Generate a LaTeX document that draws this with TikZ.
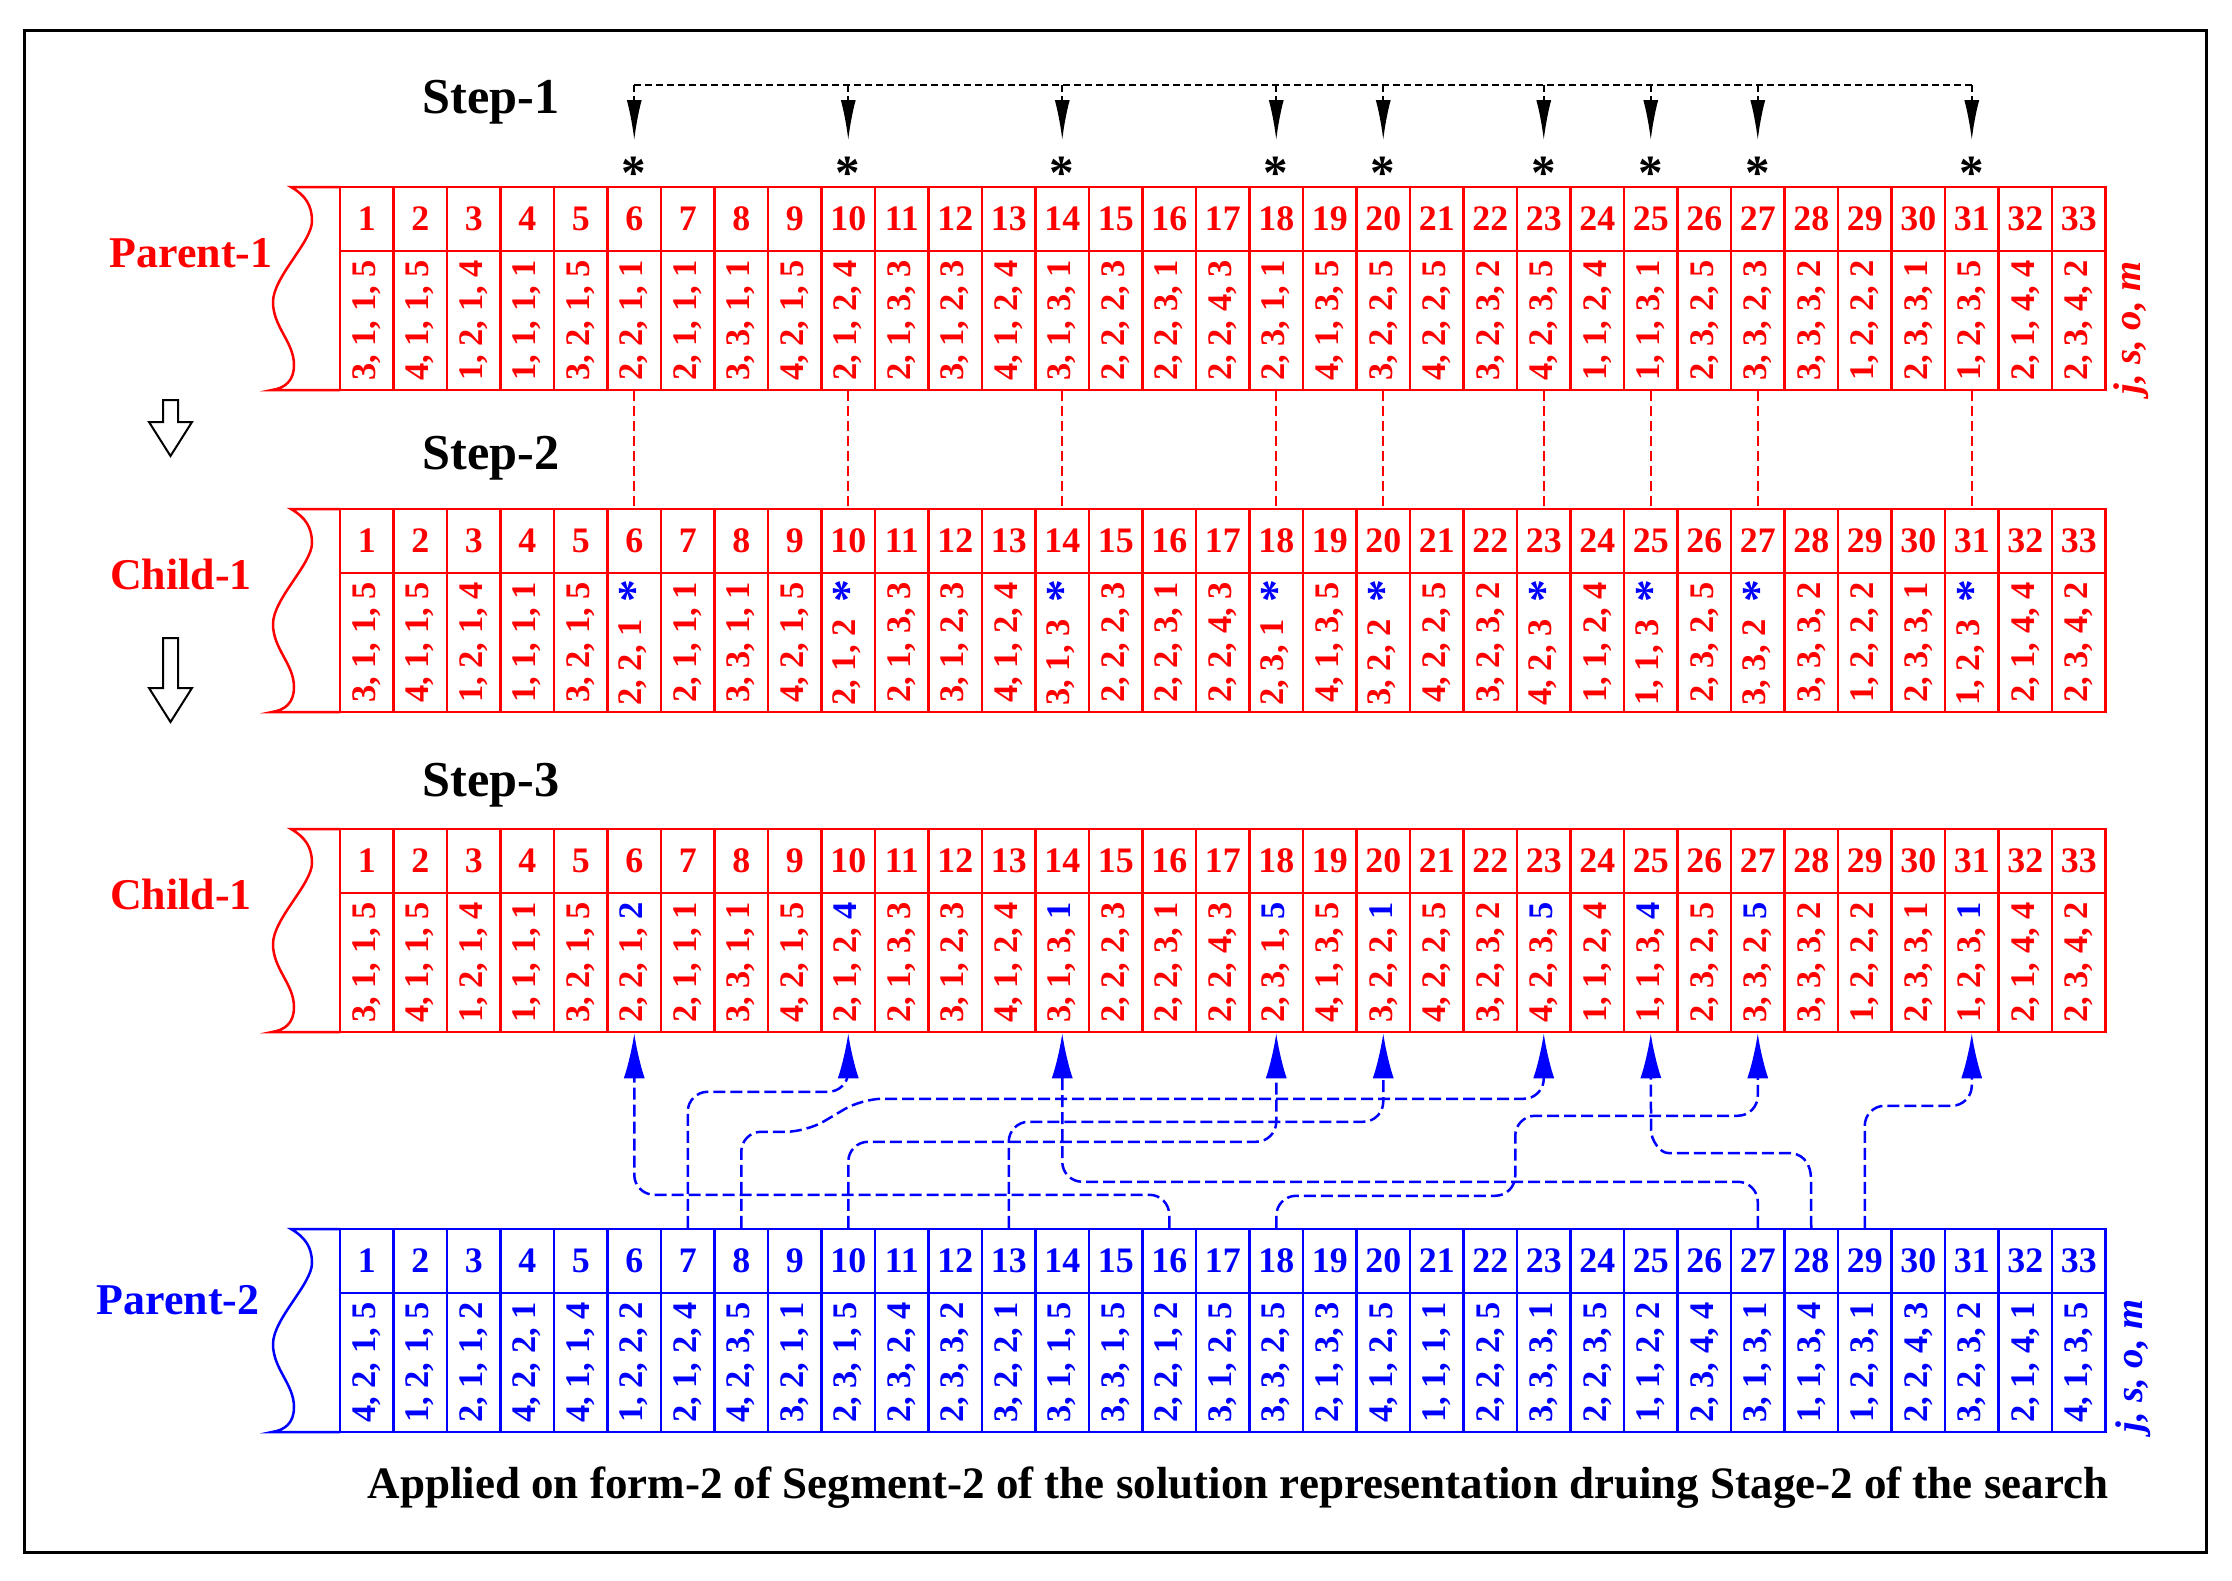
\documentclass[tikz,border=0pt]{standalone}
\usepackage{fontspec}
\usepackage{graphicx}
\setmainfont{Liberation Serif}
\usetikzlibrary{arrows.meta}

\newcommand{\bstar}{\phantom{,} \textcolor{blue}{\fontsize{13pt}{13pt}\selectfont\raisebox{-0.17em}{*}}}
\newcommand{\bv}[1]{\textcolor{blue}{#1}}

\tikzset{
  cell/.style={draw, line width=0.25mm, inner sep=0pt, minimum width=5.35mm},
  numcell/.style={cell, minimum height=6.4mm, font=\fontsize{10.2pt}{12pt}\selectfont\bfseries},
  datcell/.style={cell, minimum height=13.9mm, font=\fontsize{9.8pt}{11pt}\selectfont\bfseries},
  lab/.style={font=\fontsize{12.5pt}{15pt}\selectfont\bfseries},
  steplab/.style={font=\fontsize{14.3pt}{17pt}\selectfont\bfseries},
  jsom/.style={rotate=90, font=\fontsize{11pt}{13pt}\selectfont\bfseries\itshape},
  link/.style={blue, line width=0.25mm, dash pattern=on 1.2mm off 0.5mm, rounded corners=2mm, -{Latex[length=4.5mm,width=2.1mm]}},
}

\begin{document}
\begin{tikzpicture}[x=0.1mm, y=-0.1mm]
\useasboundingbox (0,0) rectangle (2232,1580);
\draw[line width=0.3mm] (24,30) rectangle (2206,1552);

% wavy left edges of the four strings
\foreach \t/\c in {187/red, 509/red, 829/red, 1229/blue}{
  \draw[\c, line width=0.25mm] (340,\t) -- (291,\t) .. controls (305,\t+8) and (312,\t+18) .. (312,\t+34)
    .. controls (312,\t+55) and (273,\t+90) .. (273,\t+115) .. controls (273,\t+140) and (294,\t+155) .. (294,\t+178)
    .. controls (294,\t+194) and (285,\t+201) .. (272,\t+203) -- (340,\t+203);
}

% Parent-1
\foreach \s [count=\i] in {{3, 1, 1, 5},{4, 1, 1, 5},{1, 2, 1, 4},{1, 1, 1, 1},{3, 2, 1, 5},{2, 2, 1, 1},{2, 1, 1, 1},{3, 3, 1, 1},{4, 2, 1, 5},{2, 1, 2, 4},{2, 1, 3, 3},{3, 1, 2, 3},{4, 1, 2, 4},{3, 1, 3, 1},{2, 2, 2, 3},{2, 2, 3, 1},{2, 2, 4, 3},{2, 3, 1, 1},{4, 1, 3, 5},{3, 2, 2, 5},{4, 2, 2, 5},{3, 2, 3, 2},{4, 2, 3, 5},{1, 1, 2, 4},{1, 1, 3, 1},{2, 3, 2, 5},{3, 3, 2, 3},{3, 3, 3, 2},{1, 2, 2, 2},{2, 3, 3, 1},{1, 2, 3, 5},{2, 1, 4, 4},{2, 3, 4, 2}}{
  \node[numcell, red] (p1n-\i) at (313.25+\i*53.5, 219) {\i};
  \node[datcell, red] (p1d-\i) at (313.25+\i*53.5, 320.5) {\rotatebox{90}{\s}};
}
% Child-1 after step 2
\foreach \s [count=\i] in {{3, 1, 1, 5},{4, 1, 1, 5},{1, 2, 1, 4},{1, 1, 1, 1},{3, 2, 1, 5},{2, 2, 1\bstar},{2, 1, 1, 1},{3, 3, 1, 1},{4, 2, 1, 5},{2, 1, 2\bstar},{2, 1, 3, 3},{3, 1, 2, 3},{4, 1, 2, 4},{3, 1, 3\bstar},{2, 2, 2, 3},{2, 2, 3, 1},{2, 2, 4, 3},{2, 3, 1\bstar},{4, 1, 3, 5},{3, 2, 2\bstar},{4, 2, 2, 5},{3, 2, 3, 2},{4, 2, 3\bstar},{1, 1, 2, 4},{1, 1, 3\bstar},{2, 3, 2, 5},{3, 3, 2\bstar},{3, 3, 3, 2},{1, 2, 2, 2},{2, 3, 3, 1},{1, 2, 3\bstar},{2, 1, 4, 4},{2, 3, 4, 2}}{
  \node[numcell, red] (c1n-\i) at (313.25+\i*53.5, 541) {\i};
  \node[datcell, red] (c1d-\i) at (313.25+\i*53.5, 642.5) {\rotatebox{90}{\s}};
}
% Child-1 after step 3
\foreach \s [count=\i] in {{3, 1, 1, 5},{4, 1, 1, 5},{1, 2, 1, 4},{1, 1, 1, 1},{3, 2, 1, 5},{2, 2, 1, \bv{2}},{2, 1, 1, 1},{3, 3, 1, 1},{4, 2, 1, 5},{2, 1, 2, \bv{4}},{2, 1, 3, 3},{3, 1, 2, 3},{4, 1, 2, 4},{3, 1, 3, \bv{1}},{2, 2, 2, 3},{2, 2, 3, 1},{2, 2, 4, 3},{2, 3, 1, \bv{5}},{4, 1, 3, 5},{3, 2, 2, \bv{1}},{4, 2, 2, 5},{3, 2, 3, 2},{4, 2, 3, \bv{5}},{1, 1, 2, 4},{1, 1, 3, \bv{4}},{2, 3, 2, 5},{3, 3, 2, \bv{5}},{3, 3, 3, 2},{1, 2, 2, 2},{2, 3, 3, 1},{1, 2, 3, \bv{1}},{2, 1, 4, 4},{2, 3, 4, 2}}{
  \node[numcell, red] (c2n-\i) at (313.25+\i*53.5, 861) {\i};
  \node[datcell, red] (c2d-\i) at (313.25+\i*53.5, 962.5) {\rotatebox{90}{\s}};
}
% Parent-2
\foreach \s [count=\i] in {{4, 2, 1, 5},{1, 2, 1, 5},{2, 1, 1, 2},{4, 2, 2, 1},{4, 1, 1, 4},{1, 2, 2, 2},{2, 1, 2, 4},{4, 2, 3, 5},{3, 2, 1, 1},{2, 3, 1, 5},{2, 3, 2, 4},{2, 3, 3, 2},{3, 2, 2, 1},{3, 1, 1, 5},{3, 3, 1, 5},{2, 2, 1, 2},{3, 1, 2, 5},{3, 3, 2, 5},{2, 1, 3, 3},{4, 1, 2, 5},{1, 1, 1, 1},{2, 2, 2, 5},{3, 3, 3, 1},{2, 2, 3, 5},{1, 1, 2, 2},{2, 3, 4, 4},{3, 1, 3, 1},{1, 1, 3, 4},{1, 2, 3, 1},{2, 2, 4, 3},{3, 2, 3, 2},{2, 1, 4, 1},{4, 1, 3, 5}}{
  \node[numcell, blue] (p2n-\i) at (313.25+\i*53.5, 1261) {\i};
  \node[datcell, blue] (p2d-\i) at (313.25+\i*53.5, 1362.5) {\rotatebox{90}{\s}};
}

\node[jsom, red] (p1k) at (2131,328) {j, s, o, m};
\node[jsom, blue] (p2k) at (2133,1366) {j, s, o, m};

\node[lab, red] (p1lab) at (191,253) {Parent-1};
\node[lab, red] (c1lab) at (181,574) {Child-1};
\node[lab, red] (c2lab) at (181,894) {Child-1};
\node[lab, blue] (p2lab) at (178,1300) {Parent-2};
\node[steplab] (s1) at (491,102) {Step-1};
\node[steplab] (s2) at (491,458) {Step-2};
\node[steplab] (s3) at (491,785) {Step-3};
\node[font=\fontsize{12.8pt}{15pt}\selectfont\bfseries] (cap) at (1238,1488) {Applied on form-2 of Segment-2 of the solution representation druing Stage-2 of the search};

% step 1: marked positions
\foreach \i in {6,10,14,18,20,23,25,27,31}{
  \node[font=\fontsize{14pt}{14pt}\selectfont\bfseries, anchor=north, inner sep=0pt] (st-\i) at (p1n-\i |- 0,156) {*};
  \coordinate (top-\i) at (st-\i |- 0,85);
  \draw[line width=0.2mm, dash pattern=on 0.7mm off 0.4mm, -{Latex[length=4mm,width=1.5mm]}, shorten >=1.6mm] (top-\i) -- (st-\i.north);
  \draw[red, line width=0.2mm, dash pattern=on 1mm off 0.5mm] (p1d-\i.south) -- (c1n-\i.north);
}
\draw[line width=0.2mm, dash pattern=on 0.7mm off 0.4mm] (top-6) -- (top-31);

% step 3: genes taken from Parent-2
\draw[link] (p2n-16.north) -- ++(0,-33) -| (c2d-6.south);
\draw[link] (p2n-7.north) -- ++(0,-136) -| (c2d-10.south);
\draw[link] (p2n-8.north) -- ++(0,-96) -- ++(65,0) -- ++(56,-33) -| (c2d-23.south);
\draw[link] (p2n-10.north) -- ++(0,-86) -| (c2d-18.south);
\draw[link] (p2n-13.north) -- ++(0,-106) -| (c2d-20.south);
\draw[link] (p2n-27.north) -- ++(0,-46) -| (c2d-14.south);
\draw[link] (p2n-18.north) -- ++(0,-32) -- ++(239,0) -- ++(0,-80) -| (c2d-27.south);
\draw[link] (p2n-28.north) -- (1811,1200) .. controls (1811,1160) and (1800,1153) .. (1768,1153) -- (1688,1153) .. controls (1660,1153) and (1651,1140) .. (1651,1110) -- (c2d-25.south);
\draw[link] (p2n-29.north) -- ++(0,-122) -| (c2d-31.south);

% hollow arrows on the left
\draw[line width=0.2mm] (163,400) -- (178,400) -- (178,422) -- (192,422) -- (170.5,456) -- (149,422) -- (163,422) -- cycle;
\draw[line width=0.2mm] (163,638) -- (178,638) -- (178,688) -- (192,688) -- (170.5,722) -- (149,688) -- (163,688) -- cycle;
\end{tikzpicture}
\end{document}
